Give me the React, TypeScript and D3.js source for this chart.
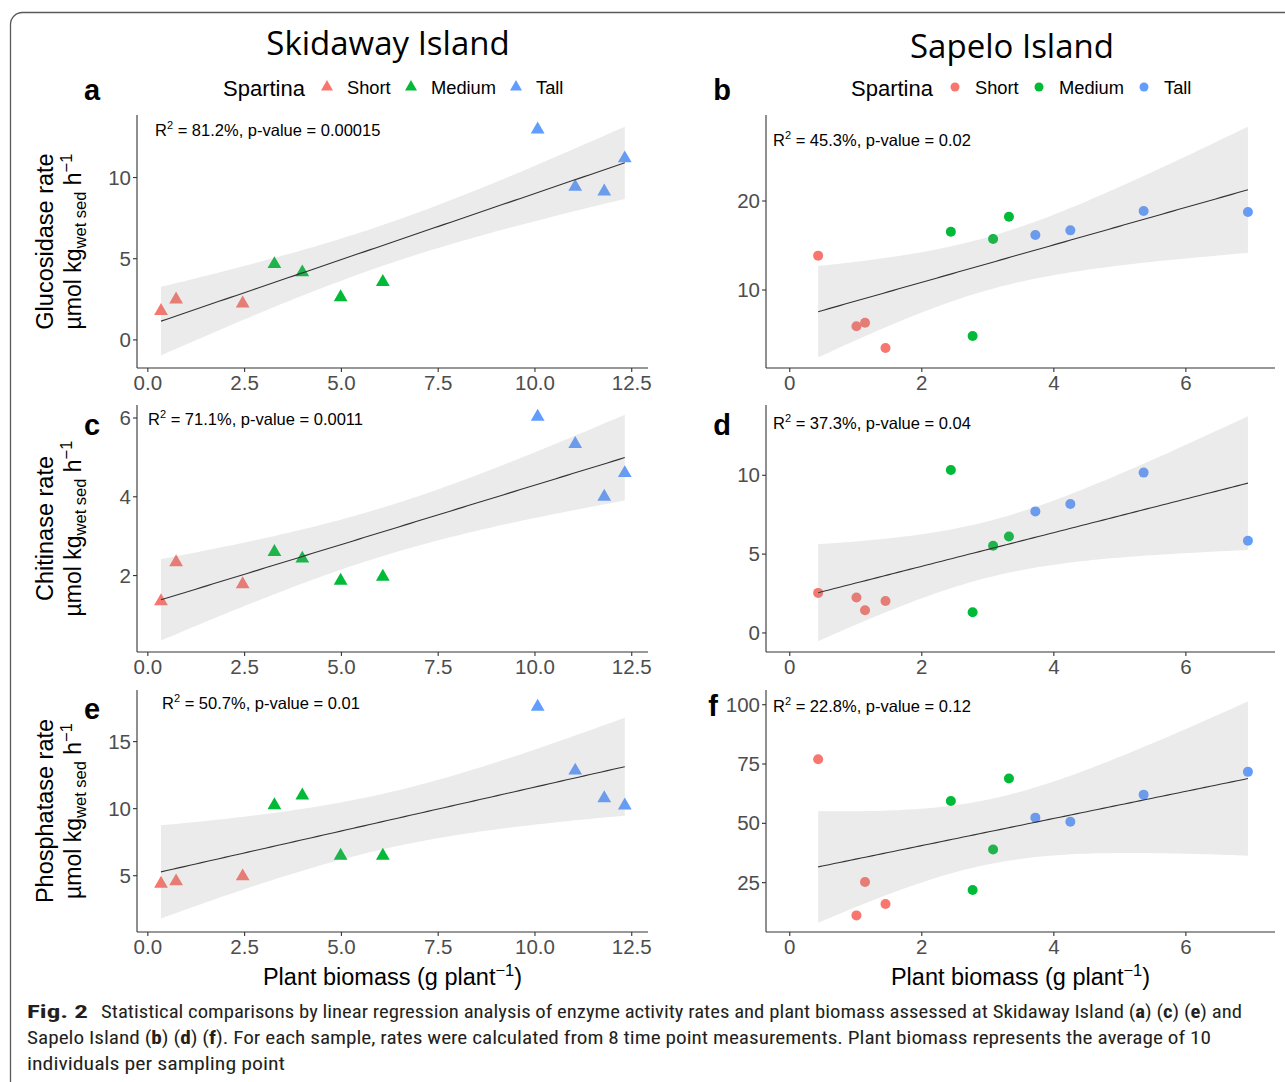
import React from 'react';
import * as d3 from 'd3';

// ---------- data ----------
const groups = ['Short', 'Medium', 'Tall'];
const groupColors = ['#F8766D', '#00BA38', '#619CFF'];

const skidawayBiomass = [0.34, 0.73, 2.45, 3.27, 3.99, 4.98, 6.07, 10.07, 11.04, 11.79, 12.32];
const skidawayGroup = ['Short', 'Short', 'Short', 'Medium', 'Medium', 'Medium', 'Medium', 'Tall', 'Tall', 'Tall', 'Tall'];
const glucosidaseSkidaway = [1.78, 2.49, 2.24, 4.67, 4.16, 2.63, 3.57, 12.96, 9.43, 9.14, 11.18];
const chitinaseSkidaway = [1.35, 2.34, 1.78, 2.6, 2.43, 1.87, 1.97, 6.03, 5.34, 4.0, 4.6];
const phosphataseSkidaway = [4.4, 4.58, 4.95, 10.25, 10.98, 6.49, 6.49, 17.6, 12.84, 10.78, 10.24];

const sapeloBiomass = [0.43, 1.01, 1.14, 1.45, 2.44, 2.77, 3.08, 3.32, 3.72, 4.25, 5.36, 6.94];
const sapeloGroup = ['Short', 'Short', 'Short', 'Short', 'Medium', 'Medium', 'Medium', 'Medium', 'Tall', 'Tall', 'Tall', 'Tall'];
const glucosidaseSapelo = [13.86, 5.92, 6.33, 3.48, 16.55, 4.83, 15.73, 18.24, 16.18, 16.7, 18.88, 18.76];
const chitinaseSapelo = [2.54, 2.25, 1.44, 2.03, 10.34, 1.31, 5.53, 6.12, 7.71, 8.18, 10.17, 5.85];
const phosphataseSapelo = [77.0, 11.2, 25.3, 16.0, 59.4, 21.9, 39.0, 68.9, 52.4, 50.7, 62.1, 71.7];

const skidawayXTicks = [0, 2.5, 5, 7.5, 10, 12.5];
const sapeloXTicks = [0, 2, 4, 6];
const yTicksA = [0, 5, 10];
const yTicksB = [10, 20];
const yTicksC = [2, 4, 6];
const yTicksD = [0, 5, 10];
const yTicksE = [5, 10, 15];
const yTicksF = [25, 50, 75, 100];

const statsText = [
  ' = 81.2%, p-value = 0.00015',
  ' = 45.3%, p-value = 0.02',
  ' = 71.1%, p-value = 0.0011',
  ' = 37.3%, p-value = 0.04',
  ' = 50.7%, p-value = 0.01',
  ' = 22.8%, p-value = 0.12',
];
const rowTitles = ['Glucosidase rate', 'Chitinase rate', 'Phosphatase rate'];
const tQuantile975: Record<number, number> = { 9: 2.262157, 10: 2.228139 };

// ---------- layout ----------
const FONT = "'Liberation Sans', Arial, Helvetica, sans-serif";
const cols = [
  { left: 137, right: 648 },
  { left: 766, right: 1275 },
];
const rows = [
  { top: 115, bottom: 368 },
  { top: 405, bottom: 652 },
  { top: 690, bottom: 932 },
];

type PanelDef = {
  letter: string;
  col: number;
  row: number;
  xs: number[];
  ys: number[];
  grp: string[];
  shape: 'tri' | 'circle';
  xDomain: [number, number];
  yDomain: [number, number];
  xTicks: number[];
  yTicks: number[];
  xFmt: (v: number) => string;
  stats: string;
  ann: [number, number];
  letterPos: [number, number];
};

const fmt1 = d3.format('.1f');
const fmt0 = d3.format('d');

const panels: PanelDef[] = [
  { letter: 'a', col: 0, row: 0, xs: skidawayBiomass, ys: glucosidaseSkidaway, grp: skidawayGroup, shape: 'tri', xDomain: [-0.28, 12.92], yDomain: [-1.73, 13.85], xTicks: skidawayXTicks, yTicks: yTicksA, xFmt: fmt1, stats: statsText[0], ann: [155, 136], letterPos: [92, 100] },
  { letter: 'b', col: 1, row: 0, xs: sapeloBiomass, ys: glucosidaseSapelo, grp: sapeloGroup, shape: 'circle', xDomain: [-0.36, 7.35], yDomain: [1.24, 29.66], xTicks: sapeloXTicks, yTicks: yTicksB, xFmt: fmt0, stats: statsText[1], ann: [773, 146], letterPos: [722, 100] },
  { letter: 'c', col: 0, row: 1, xs: skidawayBiomass, ys: chitinaseSkidaway, grp: skidawayGroup, shape: 'tri', xDomain: [-0.28, 12.92], yDomain: [0.06, 6.33], xTicks: skidawayXTicks, yTicks: yTicksC, xFmt: fmt1, stats: statsText[2], ann: [148, 425], letterPos: [92, 435] },
  { letter: 'd', col: 1, row: 1, xs: sapeloBiomass, ys: chitinaseSapelo, grp: sapeloGroup, shape: 'circle', xDomain: [-0.36, 7.35], yDomain: [-1.21, 14.46], xTicks: sapeloXTicks, yTicks: yTicksD, xFmt: fmt0, stats: statsText[3], ann: [773, 429], letterPos: [722, 435] },
  { letter: 'e', col: 0, row: 2, xs: skidawayBiomass, ys: phosphataseSkidaway, grp: skidawayGroup, shape: 'tri', xDomain: [-0.28, 12.92], yDomain: [0.8, 18.85], xTicks: skidawayXTicks, yTicks: yTicksE, xFmt: fmt1, stats: statsText[4], ann: [162, 709], letterPos: [92, 719] },
  { letter: 'f', col: 1, row: 2, xs: sapeloBiomass, ys: phosphataseSapelo, grp: sapeloGroup, shape: 'circle', xDomain: [-0.36, 7.35], yDomain: [4.2, 106.2], xTicks: sapeloXTicks, yTicks: yTicksF, xFmt: fmt0, stats: statsText[5], ann: [773, 712], letterPos: [713, 716] },
];

function fitLm(xs: number[], ys: number[]) {
  const n = xs.length;
  const mx = d3.mean(xs) as number;
  const my = d3.mean(ys) as number;
  let sxx = 0, sxy = 0;
  for (let i = 0; i < n; i++) {
    sxx += (xs[i] - mx) ** 2;
    sxy += (xs[i] - mx) * (ys[i] - my);
  }
  const b = sxy / sxx;
  const a = my - b * mx;
  let sse = 0;
  for (let i = 0; i < n; i++) sse += (ys[i] - a - b * xs[i]) ** 2;
  const s = Math.sqrt(sse / (n - 2));
  const tq = tQuantile975[n - 2] ?? 2.2;
  const [x0, x1] = d3.extent(xs) as [number, number];
  return d3.range(81).map((i) => {
    const x = x0 + ((x1 - x0) * i) / 80;
    const yh = a + b * x;
    const se = s * Math.sqrt(1 / n + (x - mx) ** 2 / sxx);
    return { x, y: yh, lo: yh - tq * se, hi: yh + tq * se };
  });
}

const color = d3.scaleOrdinal<string, string>().domain(groups).range(groupColors);
const triPath = d3.symbol().type(d3.symbolTriangle).size(82)() as string;
const triLegend = d3.symbol().type(d3.symbolTriangle).size(62)() as string;

function Panel({ p }: { p: PanelDef }) {
  const c = cols[p.col];
  const r = rows[p.row];
  const x = d3.scaleLinear().domain(p.xDomain).range([c.left, c.right]);
  const y = d3.scaleLinear().domain(p.yDomain).range([r.bottom, r.top]);
  const fit = fitLm(p.xs, p.ys);
  const area = d3
    .area<{ x: number; lo: number; hi: number }>()
    .x((d) => x(d.x))
    .y0((d) => y(d.lo))
    .y1((d) => y(d.hi));
  const line = d3
    .line<{ x: number; y: number }>()
    .x((d) => x(d.x))
    .y((d) => y(d.y));
  const axisColor = '#333333';
  const tickColor = '#4D4D4D';
  return (
    <g>
      {p.xs.map((xv, i) =>
        p.shape === 'tri' ? (
          <path key={i} d={triPath} transform={`translate(${x(xv)},${y(p.ys[i])})`} fill={color(p.grp[i])} />
        ) : (
          <circle key={i} cx={x(xv)} cy={y(p.ys[i])} r={5} fill={color(p.grp[i])} />
        )
      )}
      <path d={area(fit) as string} fill="#999999" fillOpacity={0.2} />
      <path d={line(fit) as string} fill="none" stroke="#333333" strokeWidth={1.1} />
      <line x1={c.left} x2={c.right} y1={r.bottom} y2={r.bottom} stroke={axisColor} strokeWidth={1.1} />
      <line x1={c.left} x2={c.left} y1={r.top} y2={r.bottom} stroke={axisColor} strokeWidth={1.1} />
      {p.xTicks.map((t) => (
        <g key={'x' + t}>
          <line x1={x(t)} x2={x(t)} y1={r.bottom} y2={r.bottom + 4} stroke={axisColor} strokeWidth={1.1} />
          <text x={x(t)} y={r.bottom + 22} textAnchor="middle" fontSize={20.5} fill={tickColor} fontFamily={FONT}>
            {p.xFmt(t)}
          </text>
        </g>
      ))}
      {p.yTicks.map((t) => (
        <g key={'y' + t}>
          <line x1={c.left - 4} x2={c.left} y1={y(t)} y2={y(t)} stroke={axisColor} strokeWidth={1.1} />
          <text x={c.left - 6} y={y(t) + 7} textAnchor="end" fontSize={20.5} fill={tickColor} fontFamily={FONT}>
            {t}
          </text>
        </g>
      ))}
      <text x={p.ann[0]} y={p.ann[1]} fontSize={16.5} fill="#000" fontFamily={FONT}>
        R
        <tspan dy={-7} fontSize={11}>2</tspan>
        <tspan dy={7}>{p.stats}</tspan>
      </text>
      <text x={p.letterPos[0]} y={p.letterPos[1]} textAnchor="middle" fontSize={29} fontWeight="bold" fill="#000" fontFamily={FONT}>
        {p.letter}
      </text>
    </g>
  );
}

function Legend({ x0, shape }: { x0: number; shape: 'tri' | 'circle' }) {
  const yb = 95;
  const symX = [104, 188, 293];
  const txtX = [124, 208, 313];
  return (
    <g>
      <text x={x0} y={yb + 1} fontSize={22} fill="#000" fontFamily={FONT}>Spartina</text>
      {groups.map((g, i) => (
        <g key={g}>
          {shape === 'tri' ? (
            <path d={triLegend} transform={`translate(${x0 + symX[i]},${yb - 8})`} fill={color(g)} />
          ) : (
            <circle cx={x0 + symX[i]} cy={yb - 8} r={4.5} fill={color(g)} />
          )}
          <text x={x0 + txtX[i]} y={yb - 1} fontSize={18.3} fill="#000" fontFamily={FONT}>{g}</text>
        </g>
      ))}
    </g>
  );
}

function YTitle({ row, label }: { row: number; label: string }) {
  const r = rows[row];
  const cy = (r.top + r.bottom) / 2;
  return (
    <g>
      <text transform={`translate(53,${cy}) rotate(-90)`} textAnchor="middle" fontSize={23.5} fill="#000" fontFamily={FONT}>
        {label}
      </text>
      <text transform={`translate(81,${cy}) rotate(-90)`} textAnchor="middle" fontSize={23} fill="#000" fontFamily={FONT}>
        µmol kg
        <tspan dy={5} fontSize={16.5}>wet sed</tspan>
        <tspan dy={-5}> h</tspan>
        <tspan dy={-9} fontSize={16.5}>−1</tspan>
      </text>
    </g>
  );
}

function XTitle({ col }: { col: number }) {
  const c = cols[col];
  return (
    <text x={(c.left + c.right) / 2} y={985} textAnchor="middle" fontSize={23.5} fill="#000" fontFamily={FONT}>
      Plant biomass (g plant
      <tspan dy={-9} fontSize={16.5}>−1</tspan>
      <tspan dy={9}>)</tspan>
    </text>
  );
}

export default function App() {
  const capFont = "'Liberation Sans Narrow', 'Roboto Condensed', 'Open Sans', sans-serif";
  const capColor = '#231F20';
  return (
    <svg width={1285} height={1082} style={{ position: 'absolute', left: 0, top: 0, background: '#fff' }}>
      <rect x={0} y={0} width={1285} height={1082} fill="#fff" />
      <rect x={10.5} y={12.5} width={1300} height={1100} rx={12} fill="none" stroke="#5a5a5a" strokeWidth={1.3} />
      <text x={388} y={55} textAnchor="middle" fontSize={33} fill="#000" fontFamily="'Open Sans', 'Noto Sans', sans-serif">
        Skidaway Island
      </text>
      <text x={1012} y={58} textAnchor="middle" fontSize={33} fill="#000" fontFamily="'Open Sans', 'Noto Sans', sans-serif">
        Sapelo Island
      </text>
      <Legend x0={223} shape="tri" />
      <Legend x0={851} shape="circle" />
      {panels.map((p) => (
        <Panel key={p.letter} p={p} />
      ))}
      {rowTitles.map((t, i) => (
        <YTitle key={t} row={i} label={t} />
      ))}
      <XTitle col={0} />
      <XTitle col={1} />
      <text x={27} y={1018} fontSize={19} fontWeight="bold" fill={capColor} fontFamily={capFont} textLength={61} lengthAdjust="spacingAndGlyphs">
        Fig. 2
      </text>
      <text x={101} y={1018} fontSize={19} fill={capColor} fontFamily={capFont} textLength={1141} lengthAdjust="spacingAndGlyphs">
        Statistical comparisons by linear regression analysis of enzyme activity rates and plant biomass assessed at Skidaway Island (
        <tspan fontWeight="bold">a</tspan>) (<tspan fontWeight="bold">c</tspan>) (<tspan fontWeight="bold">e</tspan>) and
      </text>
      <text x={27} y={1044} fontSize={19} fill={capColor} fontFamily={capFont} textLength={1184} lengthAdjust="spacingAndGlyphs">
        Sapelo Island (<tspan fontWeight="bold">b</tspan>) (<tspan fontWeight="bold">d</tspan>) (<tspan fontWeight="bold">f</tspan>). For each sample, rates were calculated from 8 time point measurements. Plant biomass represents the average of 10
      </text>
      <text x={27} y={1070} fontSize={19} fill={capColor} fontFamily={capFont} textLength={258} lengthAdjust="spacingAndGlyphs">
        individuals per sampling point
      </text>
    </svg>
  );
}
